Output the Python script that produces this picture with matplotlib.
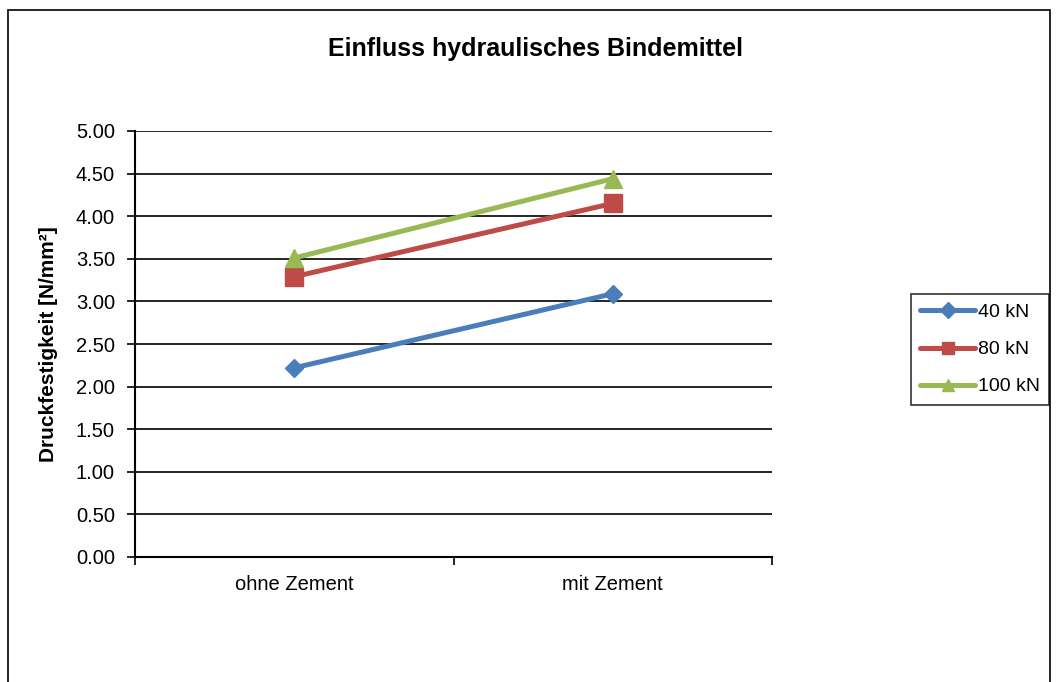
import matplotlib
matplotlib.use('Agg')
import matplotlib.pyplot as plt
from matplotlib.patches import Rectangle

plt.rcParams['font.family'] = ['Liberation Sans', 'DejaVu Sans']

categories = ['ohne Zement', 'mit Zement']
series_names = ['40 kN', '80 kN', '100 kN']
vals_40 = [2.22, 3.09]
vals_80 = [3.29, 4.15]
vals_100 = [3.51, 4.44]
colors = ['#4a7ebb', '#be4b48', '#98b954']
markers = ['D', 's', '^']
marker_sizes = [9.5, 13, 13.5]
yticks = [0.0, 0.5, 1.0, 1.5, 2.0, 2.5, 3.0, 3.5, 4.0, 4.5, 5.0]

W, H = 1058, 682
fig = plt.figure(figsize=(W / 100, H / 100), dpi=100)
# outer chart border
fig.patches.append(Rectangle((8 / W, -0.01), 1042 / W, 1 - 10 / H + 0.01,
                             transform=fig.transFigure, fill=False,
                             edgecolor='black', linewidth=1.2))

ax = fig.add_axes([135 / W, 1 - 557 / H, (772 - 135) / W, (557 - 131) / H])
xs = [0.5, 1.5]
for vals, name, c, m, ms in zip([vals_40, vals_80, vals_100], series_names,
                                colors, markers, marker_sizes):
    ax.plot(xs, vals, color=c, linewidth=3.6, marker=m, markersize=ms,
            label=name, solid_capstyle='round')

ax.set_xlim(0, 2)
ax.set_ylim(0, 5)
ax.set_yticks(yticks)
ax.set_yticklabels([f'{v:.2f}' for v in yticks], fontsize=14.5)
ax.set_xticks([0, 1, 2])
ax.set_xticklabels([])
ax.set_xticks(xs, minor=True)
ax.set_xticklabels(categories, minor=True, fontsize=14.5)
ax.tick_params(axis='x', which='minor', length=0, pad=13)
ax.tick_params(axis='both', which='major', direction='out', length=5.5, width=1.2)
ax.tick_params(axis='y', pad=9)
ax.grid(axis='y', color='black', linewidth=1.2)
ax.set_axisbelow(True)
for s in ['top', 'right']:
    ax.spines[s].set_visible(False)
for s in ['left', 'bottom']:
    ax.spines[s].set_linewidth(1.5)

ax.set_ylabel('Druckfestigkeit [N/mm²]', fontsize=15, fontweight='bold')
ax.yaxis.set_label_coords(-0.121, 0.5)
fig.text(536 / W, 1 - 49 / H, 'Einfluss hydraulisches Bindemittel',
         ha='center', va='center', fontsize=18, fontweight='bold')

leg = fig.legend(loc='center', bbox_to_anchor=(980 / W, 1 - 349.5 / H),
                 fontsize=14, frameon=True, fancybox=False, edgecolor='black',
                 handlelength=2.8, handletextpad=0.15, borderpad=0.5,
                 labelspacing=1.0, borderaxespad=0)
leg.get_frame().set_linewidth(1.2)
for h in leg.legend_handles:
    h.set_markersize(8)

fig.savefig('out.png', dpi=100)
